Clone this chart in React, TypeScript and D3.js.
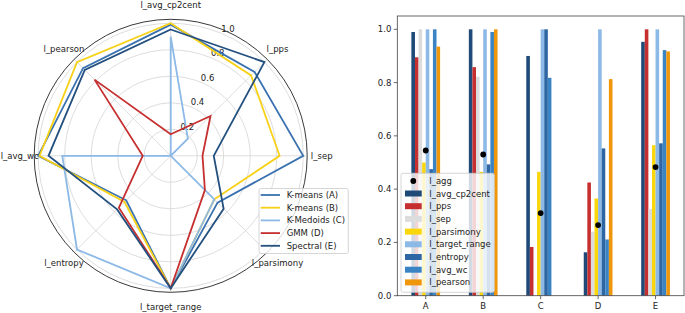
import React from 'react';
import * as d3 from 'd3';

const categories = ['A', 'B', 'C', 'D', 'E'];
const metrics = ['l_avg_cp2cent', 'l_pps', 'l_sep', 'l_parsimony', 'l_target_range', 'l_entropy', 'l_avg_wc', 'l_pearson'];
const seriesNames = ['K-means (A)', 'K-means (B)', 'K-Medoids (C)', 'GMM (D)', 'Spectral (E)'];
const valuesA = [0.99, 0.895, 1.0, 0.5, 1.0, 0.475, 1.0, 0.935];
const valuesB = [1.0, 0.858, 0.822, 0.465, 1.0, 0.493, 0.99, 1.0];
const valuesC = [0.9, 0.183, 0.0, 0.465, 1.0, 1.0, 0.818, 0.0];
const valuesD = [0.163, 0.425, 0.24, 0.365, 1.0, 0.553, 0.211, 0.813];
const valuesE = [0.953, 1.0, 0.325, 0.565, 1.0, 0.572, 0.922, 0.917];
const aggValues = [0.545, 0.53, 0.31, 0.265, 0.483];
const radialTicks = [0.2, 0.4, 0.6, 0.8, 1.0];
const barTicks = [0.0, 0.2, 0.4, 0.6, 0.8, 1.0];

const allValues = [valuesA, valuesB, valuesC, valuesD, valuesE];
const seriesColors = ['#3a72b0', '#f7d117', '#8db9e6', '#c62f2f', '#23507f'];
const metricColors = ['#1f4a78', '#c62f2f', '#dcdcdc', '#fad60a', '#8db9e6', '#2e66a3', '#3a84c4', '#f0960a'];

const FONT = 'DejaVu Sans, sans-serif';
const FS = 8.5;
const TXT = '#222';

function Radar() {
  const cx = 170.7, cy = 155.8;
  const r = d3.scaleLinear().domain([0, 1.03]).range([0, 136.5]);
  const ang = d3.scalePoint<number>().domain(d3.range(metrics.length + 1)).range([0, 2 * Math.PI]);
  const a = (i: number) => ang(i) as number;
  const line = d3.lineRadial<number>().angle((_, i) => a(i)).radius((v) => r(v)).curve(d3.curveLinearClosed);
  const pt = (angle: number, rad: number) => [cx + rad * Math.sin(angle), cy - rad * Math.cos(angle)];
  const rlAngle = Math.PI / 8;
  return (
    <g>
      {radialTicks.map((t) => (
        <circle key={t} cx={cx} cy={cy} r={r(t)} fill="none" stroke="#cfcfcf" strokeWidth={0.7} />
      ))}
      {metrics.map((m, i) => {
        const [x, y] = pt(a(i), r(1.03));
        return <line key={m} x1={cx} y1={cy} x2={x} y2={y} stroke="#cfcfcf" strokeWidth={0.7} />;
      })}
      <circle cx={cx} cy={cy} r={r(1.03)} fill="none" stroke="#222" strokeWidth={0.9} />
      {radialTicks.map((t) => {
        const [x, y] = pt(rlAngle, r(t));
        return (
          <text key={t} x={x + 6.5} y={y - 4.5} fontFamily={FONT} fontSize={FS} fill={TXT} textAnchor="middle" dominantBaseline="central">
            {t.toFixed(1)}
          </text>
        );
      })}
      {allValues.map((vals, k) => (
        <path key={k} d={line(vals) as string} transform={`translate(${cx},${cy})`} fill="none" stroke={seriesColors[k]} strokeWidth={1.8} strokeLinejoin="miter" />
      ))}
      {metrics.map((m, i) => {
        const [x, y] = pt(a(i), 151);
        return (
          <text key={m} x={x} y={y} fontFamily={FONT} fontSize={FS} fill={TXT} textAnchor="middle" dominantBaseline="central">
            {m}
          </text>
        );
      })}
      <g>
        <rect x={259} y={188.5} width={89.3} height={65} rx={2} fill="#fff" fillOpacity={0.8} stroke="#cccccc" strokeWidth={0.8} />
        {seriesNames.map((s, k) => (
          <g key={s} transform={`translate(0,${195 + k * 12.7})`}>
            <line x1={260.7} x2={280} y1={0} y2={0} stroke={seriesColors[k]} strokeWidth={1.8} />
            <text x={286.7} y={0} fontFamily={FONT} fontSize={FS} fill={TXT} dominantBaseline="central">{s}</text>
          </g>
        ))}
      </g>
    </g>
  );
}

function Bars() {
  const left = 397.3, right = 684, top = 16, bottom = 295.7;
  const x = d3.scaleLinear().domain([-0.495, 4.495]).range([left, right]);
  const y = d3.scaleLinear().domain([0, 1.05]).range([bottom, top]);
  const bw = 0.5 / metrics.length;
  return (
    <g>
      {categories.map((c, ci) => (
        <g key={c}>
          {metrics.map((m, mi) => {
            const x0 = ci - 0.25 + mi * bw;
            const v = allValues[ci][mi];
            return <rect key={m} x={x(x0)} y={y(v)} width={x(x0 + bw) - x(x0)} height={y(0) - y(v)} fill={metricColors[mi]} />;
          })}
        </g>
      ))}
      {aggValues.map((v, ci) => (
        <circle key={ci} cx={x(ci)} cy={y(v)} r={2.9} fill="#000" />
      ))}
      <rect x={left} y={top} width={right - left} height={bottom - top} fill="none" stroke="#444" strokeWidth={0.8} />
      {barTicks.map((t) => (
        <g key={t}>
          <line x1={left - 3.5} x2={left} y1={y(t)} y2={y(t)} stroke="#444" strokeWidth={0.8} />
          <text x={left - 6} y={y(t)} fontFamily={FONT} fontSize={FS} fill={TXT} textAnchor="end" dominantBaseline="central">{t.toFixed(1)}</text>
        </g>
      ))}
      {categories.map((c, ci) => (
        <g key={c}>
          <line x1={x(ci)} x2={x(ci)} y1={bottom} y2={bottom + 3.5} stroke="#444" strokeWidth={0.8} />
          <text x={x(ci)} y={bottom + 10} fontFamily={FONT} fontSize={FS} fill={TXT} textAnchor="middle" dominantBaseline="central">{c}</text>
        </g>
      ))}
      <g>
        <rect x={401} y={173.3} width={93.3} height={119} rx={2} fill="#fff" fillOpacity={0.8} stroke="#cccccc" strokeWidth={0.8} />
        <circle cx={413.3} cy={181} r={2.9} fill="#000" />
        <text x={429.3} y={181} fontFamily={FONT} fontSize={FS} fill={TXT} dominantBaseline="central">l_agg</text>
        {metrics.map((m, mi) => {
          const cy = 193.5 + mi * 12.7;
          return (
            <g key={m}>
              <rect x={405} y={cy - 3} width={16.7} height={6} fill={metricColors[mi]} />
              <text x={429.3} y={cy} fontFamily={FONT} fontSize={FS} fill={TXT} dominantBaseline="central">{m}</text>
            </g>
          );
        })}
      </g>
    </g>
  );
}

export default function App() {
  return (
    <svg width={685} height={313} style={{ position: 'absolute', left: 0, top: 0, background: '#fff' }}>
      <rect width={685} height={313} fill="#fff" />
      <Radar />
      <Bars />
    </svg>
  );
}
